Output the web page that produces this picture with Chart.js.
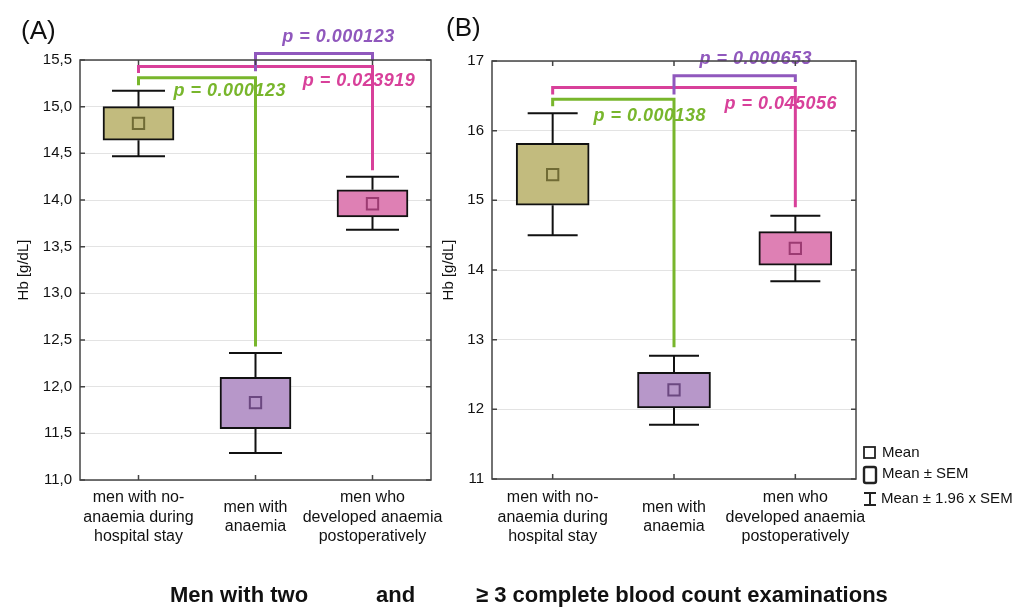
<!DOCTYPE html>
<html>
<head>
<meta charset="utf-8">
<script src="https://cdn.jsdelivr.net/npm/chart.js@4.4.1/dist/chart.umd.min.js"></script>
<style>
  html, body { margin: 0; padding: 0; background: #fff; }
  body { width: 1034px; height: 607px; position: relative; overflow: hidden;
         font-family: "Liberation Sans", Arial, sans-serif; color: #111; }
  canvas { position: absolute; top: 0; }
  .tag { position: absolute; font-size: 26px; line-height: 30px; }
  .foot { position: absolute; top: 583px; font-size: 22px; font-weight: bold;
          line-height: 24px; white-space: nowrap; }
</style>
</head>
<body>
<canvas id="chartA" width="470" height="607" style="left:0;width:470px;height:607px"></canvas>
<canvas id="chartB" width="594" height="607" style="left:440px;width:594px;height:607px"></canvas>
<div class="tag" style="left:21px;top:15px">(A)</div>
<div class="tag" style="left:446px;top:12px">(B)</div>
<div class="foot" style="left:170px">Men with two</div>
<div class="foot" style="left:376px">and</div>
<div class="foot" style="left:476px">≥ 3 complete blood count examinations</div>

<script>
// groups on the x axis (same in both panels)
const groups = [
  ['men with no-', 'anaemia during', 'hospital stay'],
  ['men with', 'anaemia'],
  ['men who', 'developed anaemia', 'postoperatively']
];

// (A) men with two examinations
const meanA = [14.82, 11.83, 13.96];
const semLowA = [14.64, 11.55, 13.82];
const semHighA = [15.00, 12.10, 14.11];
const ciLowA = [14.47, 11.29, 13.68];
const ciHighA = [15.17, 12.36, 14.25];
const yTicksA = [11.0, 11.5, 12.0, 12.5, 13.0, 13.5, 14.0, 14.5, 15.0, 15.5];
const pValuesA = ['0.000123', '0.023919', '0.000123'];

// (B) men with >= 3 examinations
const meanB = [15.37, 12.28, 14.31];
const semLowB = [14.93, 12.02, 14.07];
const semHighB = [15.82, 12.53, 14.55];
const ciLowB = [14.50, 11.78, 13.84];
const ciHighB = [16.25, 12.77, 14.78];
const yTicksB = [11, 12, 13, 14, 15, 16, 17];
const pValuesB = ['0.000138', '0.045056', '0.000653'];

const boxFill = ['#c2bb7e', '#b797c9', '#de80b4'];
const meanEdge = ['#706b35', '#6b4880', '#9c3b72'];
const pColors = ['#78b62c', '#d8409a', '#9058bd'];
const FONT = '"Liberation Sans", Arial, sans-serif';

// brackets: [from group, to group, bar level, left leg end, right leg end, label x (group units), label y]
const bracketsA = [
  [0, 1, 15.31, 15.23, 12.43, 0.78, 15.17],
  [0, 2, 15.43, 15.36, 14.32, 1.885, 15.27],
  [1, 2, 15.57, 15.38, 15.49, 1.71, 15.75]
];
const bracketsB = [
  [0, 1, 16.45, 16.35, 12.89, 0.80, 16.21],
  [0, 2, 16.62, 16.52, 14.90, 1.88, 16.38],
  [1, 2, 16.79, 16.52, 16.70, 1.674, 17.03]
];

const fmtA = (v) => v.toFixed(1).replace('.', ',');
const fmtB = (v) => String(v);

function extras(p) {
  return {
    id: 'extras',
    beforeDatasetsDraw(chart) {
      const { ctx, scales: { x, y } } = chart;
      ctx.save();
      ctx.strokeStyle = '#111';
      ctx.lineWidth = 2;
      p.ciLow.forEach((lo, i) => {
        const px = x.getPixelForValue(i);
        const half = p.cap / 2;
        const yHi = y.getPixelForValue(p.ciHigh[i]);
        const yLo = y.getPixelForValue(lo);
        ctx.beginPath();
        ctx.moveTo(px, yHi); ctx.lineTo(px, y.getPixelForValue(p.semHigh[i]));
        ctx.moveTo(px, yLo); ctx.lineTo(px, y.getPixelForValue(p.semLow[i]));
        ctx.moveTo(px - half, yHi); ctx.lineTo(px + half, yHi);
        ctx.moveTo(px - half, yLo); ctx.lineTo(px + half, yLo);
        ctx.stroke();
      });
      ctx.restore();
    },
    afterDatasetsDraw(chart) {
      const { ctx, scales: { x, y } } = chart;
      ctx.save();
      ctx.font = 'italic bold 18px ' + FONT;
      ctx.letterSpacing = '0.5px';
      ctx.textAlign = 'center';
      ctx.textBaseline = 'middle';
      p.brackets.forEach((b, i) => {
        ctx.fillStyle = pColors[i];
        ctx.fillText('p = ' + p.pValues[i], x.getPixelForValue(b[5]), y.getPixelForValue(b[6]));
      });
      ctx.lineWidth = 3;
      ctx.lineJoin = 'miter';
      p.brackets.forEach((b, i) => {
        const x0 = x.getPixelForValue(b[0]);
        const x1 = x.getPixelForValue(b[1]);
        const yt = y.getPixelForValue(b[2]);
        ctx.strokeStyle = pColors[i];
        ctx.beginPath();
        ctx.moveTo(x0, y.getPixelForValue(b[3]));
        ctx.lineTo(x0, yt);
        ctx.lineTo(x1, yt);
        ctx.lineTo(x1, y.getPixelForValue(b[4]));
        ctx.stroke();
      });
      ctx.restore();
    },
    afterDraw(chart) {
      const { ctx, chartArea: a, scales: { x, y } } = chart;
      ctx.save();
      ctx.strokeStyle = '#444';
      ctx.lineWidth = 1.5;
      ctx.strokeRect(a.left, a.top, a.right - a.left, a.bottom - a.top);
      ctx.beginPath();
      p.yTicks.forEach((v) => {
        const py = y.getPixelForValue(v);
        ctx.moveTo(a.left, py); ctx.lineTo(a.left + 5, py);
        ctx.moveTo(a.right, py); ctx.lineTo(a.right - 5, py);
      });
      groups.forEach((g, i) => {
        const px = x.getPixelForValue(i);
        ctx.moveTo(px, a.top); ctx.lineTo(px, a.top + 5);
        ctx.moveTo(px, a.bottom); ctx.lineTo(px, a.bottom - 5);
      });
      ctx.stroke();

      if (p.legend) {
        const ox = a.right + 7;
        ctx.strokeStyle = '#222';
        ctx.fillStyle = '#111';
        ctx.font = '15px ' + FONT;
        ctx.textAlign = 'left';
        ctx.textBaseline = 'middle';
        ctx.lineWidth = 1.8;
        ctx.strokeRect(ox + 1, 447, 11, 11);
        ctx.fillText('Mean', ox + 19, 452.5);
        ctx.lineWidth = 2.4;
        ctx.beginPath();
        ctx.roundRect(ox + 1, 467, 12, 16, 2);
        ctx.stroke();
        ctx.fillText('Mean ± SEM', ox + 19, 474);
        ctx.lineWidth = 2;
        ctx.beginPath();
        ctx.moveTo(ox + 7, 493); ctx.lineTo(ox + 7, 505);
        ctx.moveTo(ox + 1, 493); ctx.lineTo(ox + 13, 493);
        ctx.moveTo(ox + 1, 505); ctx.lineTo(ox + 13, 505);
        ctx.stroke();
        ctx.fillText('Mean ± 1.96 x SEM', ox + 18, 499);
      }
      ctx.restore();
    }
  };
}

function makePanel(id, d) {
  return new Chart(document.getElementById(id), {
    type: 'bar',
    data: {
      labels: groups,
      datasets: [
        {
          type: 'line',
          data: d.mean,
          showLine: false,
          pointStyle: 'rect',
          pointRadius: 8,
          pointHoverRadius: 8,
          pointBackgroundColor: boxFill,
          pointBorderColor: meanEdge,
          pointBorderWidth: 2,
          order: 1
        },
        {
          data: d.semLow.map((lo, i) => [lo, d.semHigh[i]]),
          backgroundColor: boxFill,
          borderColor: '#111',
          borderWidth: 2,
          borderSkipped: false,
          barThickness: d.barW,
          order: 2
        }
      ]
    },
    options: {
      responsive: false,
      devicePixelRatio: 1,
      animation: false,
      events: [],
      layout: { padding: d.pad },
      plugins: { legend: { display: false }, tooltip: { enabled: false } },
      scales: {
        x: {
          grid: { display: false, drawTicks: false },
          border: { display: false },
          afterFit: (s) => { s.height = d.xH; s.paddingLeft = 0; s.paddingRight = 0; },
          ticks: {
            color: '#111',
            font: { family: FONT, size: 16, lineHeight: 1.2 },
            padding: d.xPad,
            crossAlign: 'center',
            maxRotation: 0,
            autoSkip: false
          }
        },
        y: {
          min: d.yTicks[0],
          max: d.yTicks[d.yTicks.length - 1],
          afterBuildTicks: (s) => { s.ticks = d.yTicks.map((v) => ({ value: v })); },
          afterFit: (s) => { s.width = d.yW; s.paddingTop = 0; s.paddingBottom = 0; },
          grid: { color: '#e3e3e3', lineWidth: 1, drawTicks: false },
          border: { display: false },
          ticks: {
            color: '#111',
            font: { family: FONT, size: 15 },
            padding: 8,
            callback: (v) => d.fmt(v)
          },
          title: {
            display: true,
            text: 'Hb [g/dL]',
            color: '#111',
            font: { family: FONT, size: 15 },
            padding: { top: d.titlePad, bottom: 0 }
          }
        }
      }
    },
    plugins: [extras({
      ciLow: d.ciLow, ciHigh: d.ciHigh, semLow: d.semLow, semHigh: d.semHigh,
      cap: d.cap, brackets: d.brackets, pValues: d.pValues, yTicks: d.yTicks,
      legend: d.legend
    })]
  });
}

makePanel('chartA', {
  mean: meanA, semLow: semLowA, semHigh: semHighA, ciLow: ciLowA, ciHigh: ciHighA,
  yTicks: yTicksA, pValues: pValuesA, brackets: bracketsA, fmt: fmtA,
  barW: 71, cap: 53, pad: { left: 12, right: 39, top: 60, bottom: 0 },
  yW: 68, xH: 127, xPad: 18, titlePad: 3, legend: false
});

makePanel('chartB', {
  mean: meanB, semLow: semLowB, semHigh: semHighB, ciLow: ciLowB, ciHigh: ciHighB,
  yTicks: yTicksB, pValues: pValuesB, brackets: bracketsB, fmt: fmtB,
  barW: 73, cap: 50, pad: { left: 0, right: 178, top: 61, bottom: 0 },
  yW: 52, xH: 128, xPad: 19, titlePad: 0, legend: true
});
</script>
</body>
</html>
